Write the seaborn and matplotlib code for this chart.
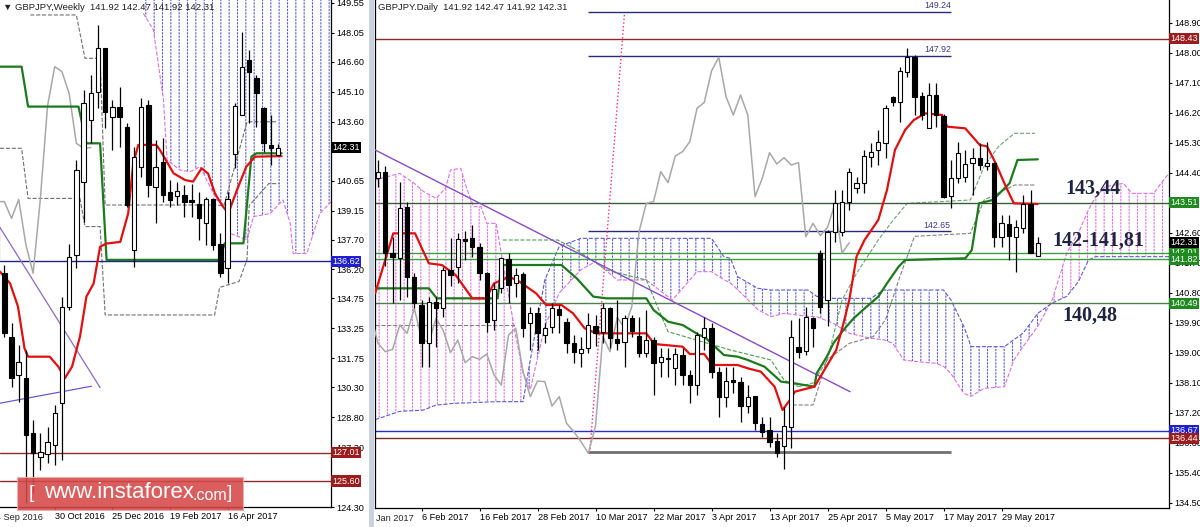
import numpy as np
import pandas as pd
import matplotlib
matplotlib.use("Agg")
import matplotlib.pyplot as plt
import matplotlib.transforms as mtransforms
from matplotlib.patches import Rectangle
import seaborn as sns

sns.set_style("white")
plt.rcParams['font.family'] = ['Liberation Sans', 'DejaVu Sans']
plt.rcParams['hatch.linewidth'] = 0.8

# ---------------- daily data (bar 0 = 27 Jan 2017) ----------------
d_open = [144.24, 144.44, 141.99, 141.84, 143.39, 141.29, 140.44, 139.29, 140.54, 140.34,
          141.49, 141.59, 142.41, 142.44, 142.19, 141.39, 139.99, 140.94, 141.81, 141.09,
          141.37, 139.89, 140.19, 139.54, 139.77, 140.31, 139.94, 139.29, 138.99, 139.14,
          139.81, 139.64, 140.34, 139.41, 139.34, 140.04, 139.51, 139.01, 139.39, 138.74,
          138.86, 138.54, 138.94, 138.34, 138.04, 139.49, 139.74, 138.44, 137.69, 138.16,
          138.14, 137.42, 137.71, 136.87, 136.69, 136.37, 136.21, 136.79, 139.17, 139.07,
          140.04, 141.99, 140.59, 142.64, 142.64, 143.52, 143.94, 144.11, 144.89, 145.09,
          145.29, 146.67, 146.52, 147.42, 147.87, 146.71, 145.74, 146.74, 146.11, 143.72,
          144.24, 144.29, 144.69, 144.84, 144.61, 144.71, 142.49, 142.86, 142.49, 142.74,
          143.46, 141.92]
d_high = [144.79, 144.60, 142.49, 144.14, 143.54, 141.40, 140.59, 140.69, 140.69, 141.59,
          142.44, 142.59, 142.65, 142.84, 142.29, 141.44, 141.09, 141.89, 141.99, 141.54,
          141.44, 140.39, 140.39, 139.90, 140.49, 140.44, 140.04, 139.54, 139.49, 140.19,
          140.14, 140.50, 140.39, 140.59, 140.14, 140.14, 140.09, 140.29, 139.49, 139.14,
          139.14, 139.14, 139.14, 138.49, 139.64, 140.09, 139.89, 138.59, 138.59, 138.59,
          138.29, 138.04, 137.71, 137.09, 137.09, 136.59, 137.39, 139.99, 140.04, 140.39,
          140.09, 142.10, 142.70, 143.89, 143.89, 144.54, 144.29, 145.09, 145.29, 145.69,
          146.44, 146.70, 147.57, 148.14, 147.94, 146.84, 147.09, 147.09, 146.17, 144.79,
          145.34, 145.09, 145.14, 145.29, 145.34, 144.74, 143.14, 143.14, 142.99, 143.74,
          143.89, 142.47]
d_low = [143.99, 141.60, 140.49, 140.59, 140.69, 140.35, 138.59, 138.59, 139.19, 140.09,
         141.00, 141.09, 141.80, 141.89, 141.19, 139.64, 139.69, 140.79, 140.49, 140.69,
         139.49, 139.09, 139.09, 139.30, 139.59, 139.60, 138.99, 138.69, 138.59, 138.99,
         139.20, 139.30, 139.14, 139.09, 138.59, 139.49, 138.89, 138.89, 137.74, 138.29,
         138.29, 138.04, 138.04, 137.49, 137.74, 139.09, 138.24, 137.09, 137.39, 137.79,
         136.94, 137.19, 136.69, 136.49, 136.19, 135.89, 135.51, 136.14, 138.84, 138.94,
         139.19, 140.20, 139.80, 142.34, 142.50, 143.29, 143.79, 143.79, 144.59, 144.64,
         144.84, 146.40, 145.94, 147.29, 146.14, 145.99, 145.74, 145.79, 143.64, 143.34,
         144.09, 144.14, 143.74, 144.49, 144.50, 142.19, 142.19, 141.79, 141.44, 142.59,
         141.99, 141.92]
d_close = [144.44, 141.99, 141.89, 143.34, 141.29, 140.49, 139.29, 140.54, 140.34, 141.49,
           141.34, 142.41, 142.35, 142.19, 141.39, 139.94, 140.91, 141.84, 141.04, 141.34,
           139.74, 140.19, 139.59, 139.74, 140.34, 140.14, 139.29, 139.04, 139.11, 139.84,
           139.59, 140.34, 139.44, 139.31, 140.04, 139.67, 139.01, 139.39, 138.71, 138.89,
           138.81, 138.97, 138.34, 138.04, 139.54, 139.74, 138.44, 137.69, 138.16, 138.14,
           137.41, 137.69, 136.89, 136.64, 136.34, 135.99, 136.81, 139.49, 139.04, 140.07,
           139.74, 140.39, 142.64, 143.49, 143.54, 144.44, 144.11, 144.91, 145.04, 145.34,
           146.34, 146.52, 147.46, 147.87, 146.69, 146.14, 146.74, 146.14, 143.69, 144.24,
           145.01, 144.67, 144.86, 144.64, 144.71, 142.49, 142.89, 142.52, 142.77, 143.46,
           142.00, 142.31]

d_tenkan_x = [-0.4, 2.1, 5.1, 7, 8.8, 10.7, 13, 14.9, 16, 18.1, 19.5, 21.8, 23.2, 25.3, 26.9,
              28.5, 30.1, 37, 38.1, 42, 43, 45, 46.1, 49.6, 51, 52.8, 54.7, 55.8, 56.8, 57.5,
              60.2, 63.2, 64.2, 65, 66, 67.1, 69, 70.2, 71.3, 72.7, 73.9, 75.5, 77.8, 78.5,
              81, 83, 84, 85.2, 86.6, 87.7, 91]
d_tenkan_y = [140.79, 142.59, 142.59, 141.69, 141.64, 141.34, 140.64, 140.64, 141.09, 141.29,
              141.14, 140.79, 140.44, 140.44, 140.19, 139.74, 139.59, 139.59, 139.27, 139.19,
              138.97, 138.97, 138.64, 138.64, 138.54, 138.44, 137.99, 137.29, 137.59, 137.84,
              137.99, 139.09, 139.89, 140.59, 141.89, 142.39, 142.99, 143.89, 145.09, 145.69,
              145.99, 146.19, 146.14, 145.79, 145.74, 145.24, 145.20, 144.69, 143.99, 143.49,
              143.47]
d_kijun_x = [-0.4, 7, 8.1, 16.5, 17, 25.3, 27.4, 29.7, 31.5, 37, 38, 40, 42, 44.3, 45, 47.7,
             49.6, 51, 53.3, 55.6, 57.4, 60.2, 60.5, 61.9, 62.8, 64.2, 65.6, 67.4, 69, 70.2,
             71.8, 72.7, 81, 81.9, 82.9, 84.8, 87.1, 88.2, 91]
d_kijun_y = [140.94, 140.94, 140.64, 140.64, 141.64, 141.64, 141.24, 140.69, 140.64, 140.64,
             140.29, 139.94, 139.84, 139.54, 139.49, 138.94, 138.89, 138.79, 138.59, 138.14,
             138.09, 137.99, 138.39, 138.89, 139.29, 139.69, 140.04, 140.39, 140.69, 141.09,
             141.59, 141.79, 141.84, 142.09, 143.49, 143.59, 144.09, 144.79, 144.81]

d_cloud_x = [-0.4, 3, 5, 6.3, 8, 9.3, 10, 11.4, 12.3, 13.2, 14.2, 15, 16.3, 17, 19, 20, 21,
             23, 25, 28, 30, 33, 37, 40.6, 42.2, 44, 46, 47.7, 48.6, 49.6, 52.4, 54.2, 56,
             59.3, 60.5, 62.8, 65, 68, 69.7, 71, 72.5, 74.4, 77, 78, 79, 80.8, 81.8, 83.6,
             86.4, 87.7, 89, 91, 93, 95, 96.6, 98, 99, 100.3, 102.8, 104, 107, 108, 109.1]
d_span_a = [144.19, 144.39, 144.09, 143.84, 143.64, 143.94, 144.49, 144.54, 143.89, 143.39,
            143.39, 142.89, 142.89, 141.99, 139.50, 138.40, 137.90, 139.80, 140.80, 141.50,
            141.74, 141.19, 141.19, 140.59, 140.99, 141.44, 141.44, 141.20, 141.10, 140.90,
            140.30, 140.09, 140.19, 140.10, 140.09, 139.89, 139.59, 139.44, 139.40, 139.29,
            138.79, 138.74, 138.69, 138.60, 138.39, 137.79, 137.70, 137.94, 137.99, 138.79,
            139.20, 139.80, 140.60, 142.00, 142.60, 143.30, 143.69, 143.99, 144.09, 143.79,
            143.79, 144.09, 144.39]
d_span_b = [137.00, 137.25, 137.27, 137.29, 137.44, 137.46, 137.48, 137.50, 137.50, 137.52,
            137.52, 137.53, 137.54, 137.54, 137.54, 137.54, 138.79, 141.19, 142.20, 142.44,
            142.44, 142.44, 142.44, 142.44, 142.44, 142.44, 142.44, 141.89, 141.84, 141.29,
            140.94, 140.89, 140.89, 140.89, 140.70, 140.64, 140.64, 140.64, 140.89, 140.89,
            140.89, 140.89, 140.89, 140.89, 140.60, 139.80, 139.19, 139.19, 139.19, 139.40,
            139.60, 140.19, 140.50, 140.70, 141.14, 141.79, 141.89, 141.89, 141.89, 141.89,
            141.89, 141.89, 141.89]

d_dash_gray1_x = [-0.4, 19]
d_dash_gray1_y = [139.84, 139.84]
d_dash_green_x = [17.2, 24.8, 27.4, 31.5, 37, 40, 48.6, 54.2, 56, 58]
d_dash_green_y = [142.39, 142.39, 142.09, 141.49, 141.19, 139.64, 139.09, 138.79, 138.19, 137.99]
d_dash_gray2_x = [58, 60, 62, 64, 66, 69, 71.1, 73, 81.7, 83.6, 85.6, 87.8, 90.6]
d_dash_gray2_y = [137.99, 138.10, 138.80, 140.59, 141.39, 142.39, 143.00, 143.49, 143.59, 144.60, 145.20, 145.59, 145.59]
d_dash_gray3_x = [57.2, 60, 61.9, 65, 68.3, 70, 72, 74, 81.7, 83.6, 87.8, 90.6]
d_dash_gray3_y = [137.44, 137.44, 138.79, 139.29, 139.49, 140.00, 141.30, 142.50, 142.59, 143.59, 144.04, 144.04]

d_levels = [148.43, 143.51, 142.01, 141.82, 140.49, 136.67, 136.44]
d_level_colors = ['#8c2a2a', '#3d5e3d', '#3fa03f', '#3fa03f', '#4f7f4f', '#2b2bd0', '#7a2a2a']
d_tag_colors = ['#9b1c1c', '#1f8a1f', '#1f8a1f', '#1f8a1f', '#1f8a1f', '#2020d0', '#9b1c1c']
d_segments = [149.24, 147.92, 142.65]
d_yticks = [148.90, 148.00, 147.10, 146.20, 145.30, 144.40, 142.60, 141.70, 140.80, 139.90,
            139.00, 138.10, 137.20, 136.30, 135.40, 134.50]
d_xticks = [6, 14, 22, 30, 38, 46, 54, 62, 70, 78, 86]
d_xlabels = ['6 Feb 2017', '16 Feb 2017', '28 Feb 2017', '10 Mar 2017', '22 Mar 2017', '3 Apr 2017',
             '13 Apr 2017', '25 Apr 2017', '5 May 2017', '17 May 2017', '29 May 2017']

# ---------------- weekly data (bar 0 = week of 4 Jun 2017) ----------------
w_open = [138.35, 136.00, 132.83, 130.92, 130.75, 128.00, 126.82, 126.95, 127.40, 129.49,
          134.34, 136.93, 140.60, 143.69, 145.11, 147.28, 143.86, 144.36, 143.36, 137.18,
          141.35, 144.44, 140.35, 141.60, 140.10, 139.88, 139.93, 139.66, 139.50, 138.54,
          139.71, 137.48, 136.26, 141.98, 143.94, 146.69, 145.78, 144.27, 142.44, 141.92]
w_high = [139.00, 136.40, 133.50, 132.42, 132.17, 128.66, 127.99, 128.32, 129.40, 134.83,
          137.50, 141.69, 145.19, 145.94, 148.45, 147.30, 144.69, 145.36, 143.52, 142.35,
          144.78, 144.69, 142.69, 142.77, 140.68, 140.60, 140.43, 140.50, 140.10, 139.85,
          139.76, 138.01, 140.10, 144.52, 148.11, 147.20, 145.94, 144.36, 143.94, 142.47]
w_low = [136.20, 132.80, 130.33, 129.58, 124.50, 124.98, 126.15, 126.48, 126.40, 126.65,
         134.17, 136.26, 138.60, 142.52, 144.27, 143.27, 142.19, 142.35, 139.35, 136.34,
         140.85, 139.85, 138.51, 139.60, 139.35, 139.43, 138.85, 138.85, 137.68, 137.43,
         137.18, 135.84, 135.50, 141.30, 143.94, 143.52, 143.36, 142.10, 141.43, 141.92]
w_close = [136.68, 133.00, 130.75, 131.58, 127.91, 127.00, 127.07, 127.57, 128.99, 134.33,
           136.84, 141.19, 144.52, 145.03, 147.28, 144.11, 144.36, 143.86, 139.43, 141.85,
           144.36, 140.43, 141.35, 139.93, 139.68, 140.15, 139.60, 139.60, 138.76, 139.71,
           137.43, 136.01, 139.73, 144.39, 146.36, 146.11, 145.02, 142.52, 142.27, 142.31]

w_tenkan_x = [-38.6, -37.2, -36.1, -35.2, -34.7, -31.7, -30.5, -29.6, -28.6, -27.5, -26.6,
              -25.6, -24.7, -23.8, -21.9, -20.8, -20.1, -19.4, -16.9, -16.4, -14.5, -12.9,
              -11.8, -10.6, -9.7, -8.75, -7.8, -6.9, -5.7, -4.4, -3.2, 0.5]
w_tenkan_y = [136.09, 135.50, 134.34, 132.25, 131.83, 131.83, 131.33, 130.75, 131.33, 132.83,
              134.84, 135.50, 137.34, 137.50, 137.58, 139.01, 141.50, 142.44, 142.44, 142.19,
              141.02, 140.68, 140.60, 141.27, 141.00, 140.01, 139.43, 139.01, 140.18, 141.35,
              141.85, 141.88]
w_kijun_x = [-38.6, -35.6, -34.7, -27.7, -26.6, -24.7, -23.8, -8.1, -7.4, -4.8, -3.7, -3.0, 0.5]
w_kijun_y = [146.36, 146.36, 144.36, 144.36, 142.52, 142.52, 136.68, 136.68, 137.51, 137.51,
             141.85, 142.02, 142.02]

w_cloud_x = [-18.7, -17.3, -15.9, -15.4, -13.6, -12.2, -10.8, -9.9, -8.5, -7.1, -6.6, -4.3,
             -3.4, -1.1, 0.7, 1.7, 2.1, 4.0, 5.8, 7.4]
w_span_a = [149.03, 148.20, 144.69, 141.68, 141.18, 141.10, 141.35, 140.68, 139.68, 139.35,
            138.00, 137.68, 138.85, 139.00, 139.68, 138.50, 137.00, 137.00, 139.00, 139.60]
w_span_b = [151.0, 151.0, 151.0, 151.0, 151.0, 151.0, 151.0, 151.0, 151.0, 151.0,
            151.0, 151.0, 151.0, 151.0, 151.0, 151.0, 151.0, 151.0, 151.0, 151.0]

w_dash1_x = [-38.6, -35.6, -34.7, -27.5, -26.8, -24.7, -24.0, -8.8, -8.1, -5.4, -4.3, -4.0, -1.3, 0.2]
w_dash1_y = [142.27, 142.27, 139.76, 139.76, 138.35, 138.35, 133.92, 133.92, 135.30, 135.60,
             136.70, 139.40, 140.50, 140.50]
w_dash2_x = [-34.4, -28.0, -26.8, -24.7, -24.0, -8.8, -7.5, -4.3, -0.2]
w_dash2_y = [148.95, 148.95, 146.78, 146.78, 139.43, 139.43, 139.40, 143.60, 143.60]

w_levels = [136.62, 127.01, 125.60]
w_level_colors = ['#22228c', '#8c2a2a', '#8c2a2a']
w_tag_colors = ['#2020d0', '#9b1c1c', '#9b1c1c']
w_yticks = [149.55, 148.05, 146.60, 145.10, 143.60, 140.65, 139.15, 137.70, 136.20, 134.75,
            133.25, 131.75, 130.30, 128.80, 127.30, 124.30]
w_xticks = [-31, -23, -15, -7]
w_xlabels = ['30 Oct 2016', '25 Dec 2016', '19 Feb 2017', '16 Apr 2017']


def candles(ax, o, h, l, c, x0, w):
    df = pd.DataFrame({'o': o, 'h': h, 'l': l, 'c': c})
    df['x'] = np.arange(len(df)) + x0
    up = df['c'] >= df['o']
    ax.vlines(df['x'], df['l'], df['h'], color='black', lw=0.9, zorder=5)
    ax.bar(df['x'], (df['c'] - df['o']).abs().clip(lower=0.04), bottom=df[['o', 'c']].min(axis=1),
           width=w, color=np.where(up, 'white', 'black'), edgecolor='black', lw=0.8, zorder=6)


def line(ax, xs, ys, color, lw=1.0, ls='-', z=3):
    sns.lineplot(x=xs, y=ys, ax=ax, color=color, linewidth=lw, linestyle=ls,
                 estimator=None, sort=False, legend=False, zorder=z)


def cloud(ax, xs, a, b):
    a = np.array(a)
    b = np.array(b)
    ax.fill_between(xs, a, b, where=a >= b, interpolate=True, facecolor='none',
                    edgecolor='#e070e0', hatch='||', linewidth=0, zorder=1)
    ax.fill_between(xs, a, b, where=a < b, interpolate=True, facecolor='none',
                    edgecolor='#5a5ad8', hatch='||', linewidth=0, zorder=1)
    # white horizontal hatch breaks the vertical lines into dots
    ax.fill_between(xs, a, b, facecolor='none', edgecolor='white', hatch='-----',
                    linewidth=0, zorder=1.5)
    line(ax, xs, a, '#e070e0', 0.8, '--', 2)
    line(ax, xs, b, '#5a5ad8', 0.8, '--', 2)


def tag(ax, y, text, fc):
    tr = mtransforms.blended_transform_factory(ax.transAxes, ax.transData)
    ax.annotate(text, xy=(1, y), xycoords=tr, xytext=(1.0, 0), textcoords='offset points',
                ha='left', va='center', fontsize=6.5, color='white', annotation_clip=False,
                bbox=dict(boxstyle='square,pad=0.12', fc=fc, ec='none'), zorder=20)


fig = plt.figure(figsize=(12, 5.27), dpi=100)
fig.patch.set_facecolor('white')
axw = fig.add_axes([0, 20 / 527, 331 / 1200, 507 / 527])
axd = fig.add_axes([375 / 1200, 19 / 527, 794 / 1200, 508 / 527])

for ax in (axw, axd):
    ax.set_facecolor('white')
    ax.yaxis.tick_right()
    ax.tick_params(axis='both', labelsize=6.6, length=2.5, width=0.8, pad=1.2, direction='out',
                   colors='black', right=True, bottom=True, left=False)
    ax.spines['top'].set_visible(False)
    for s in ('right', 'bottom', 'left'):
        ax.spines[s].set_color('black')
        ax.spines[s].set_linewidth(0.9)
axw.spines['left'].set_visible(False)

# ---------------- weekly panel ----------------
cloud(axw, w_cloud_x, w_span_a, w_span_b)
line(axw, w_dash1_x, w_dash1_y, '#707070', 0.8, '--', 2)
line(axw, w_dash2_x, w_dash2_y, '#707070', 0.8, '--', 2)
for lv, col in zip(w_levels, w_level_colors):
    axw.axhline(lv, color=col, lw=1, zorder=2)
line(axw, [-38.6, -24.7], [138.3, 130.28], '#8a6ac8', 0.9)
line(axw, [-38.6, -25.9], [129.5, 130.35], '#6a5ad0', 0.9)
line(axw, list(np.arange(-39, 1) - 26), w_close, '#a8a8a8', 1.1, '-', 3)
line(axw, w_kijun_x, w_kijun_y, '#1c7a1c', 1.6, '-', 4)
line(axw, w_tenkan_x, w_tenkan_y, '#e01010', 1.6, '-', 4)
candles(axw, w_open, w_high, w_low, w_close, -39, 0.62)
axw.set_xlim(-38.6, 7.36)
axw.set_ylim(124.30, 149.70)
axw.set_yticks(w_yticks)
axw.set_yticklabels(['%.2f' % v for v in w_yticks])
axw.set_xticks(w_xticks)
axw.set_xticklabels(w_xlabels, ha='left')
axw.text(-39.2, -0.012, '4 Sep 2016', transform=mtransforms.blended_transform_factory(axw.transData, axw.transAxes),
         ha='left', va='top', fontsize=6.6, clip_on=False)
for lv, col in zip(w_levels, w_tag_colors):
    tag(axw, lv, '%.2f' % lv, col)
tag(axw, 142.31, '142.31', 'black')
axw.text(0.01, 0.995, '\u25bc GBPJPY,Weekly  141.92 142.47 141.92 142.31', transform=axw.transAxes,
         ha='left', va='top', fontsize=6.8, color='#202020', zorder=20)

# ---------------- daily panel ----------------
cloud(axd, d_cloud_x, d_span_a, d_span_b)
line(axd, d_dash_gray1_x, d_dash_gray1_y, '#808080', 0.8, '--', 2)
line(axd, d_dash_green_x, d_dash_green_y, '#4aa04a', 0.8, '--', 2)
line(axd, d_dash_gray2_x, d_dash_gray2_y, '#6f9f6f', 0.8, '--', 2)
line(axd, d_dash_gray3_x, d_dash_gray3_y, '#808080', 0.8, '--', 2)
for lv, col in zip(d_levels, d_level_colors):
    axd.axhline(lv, color=col, lw=1, zorder=2)
for lv in d_segments:
    axd.hlines(lv, 29, 79, color='#2a2a7a', lw=1, zorder=2)
    axd.text(79, lv + 0.04, '%.2f' % lv, ha='right', va='bottom', fontsize=6.3, color='#3a3a8a')
axd.hlines(136.04, 29, 79, color='#707070', lw=2, zorder=2)
line(axd, [-0.4, 65.1], [145.09, 137.84], '#8a4ac8', 1.0, '-', 3)
line(axd, [29.2, 34.0], [136.0, 149.2], '#ff3070', 1.0, ':', 3)
line(axd, list(np.arange(92) - 26), d_close, '#a8a8a8', 1.1, '-', 3)
line(axd, d_kijun_x, d_kijun_y, '#1c7a1c', 1.6, '-', 4)
line(axd, d_tenkan_x, d_tenkan_y, '#e01010', 1.6, '-', 4)
candles(axd, d_open, d_high, d_low, d_close, 0, 0.6)
axd.set_xlim(-0.42, 109.1)
axd.set_ylim(134.35, 149.59)
axd.set_yticks(d_yticks)
axd.set_yticklabels(['%.2f' % v for v in d_yticks])
axd.set_xticks(d_xticks)
axd.set_xticklabels(d_xlabels, ha='left')
axd.text(-0.3, -0.012, 'Jan 2017', transform=mtransforms.blended_transform_factory(axd.transData, axd.transAxes),
         ha='left', va='top', fontsize=6.6, clip_on=False)
for lv, col in zip(d_levels, d_tag_colors):
    tag(axd, lv, '%.2f' % lv, col)
tag(axd, 142.31, '142.31', 'black')
axd.text(0.004, 0.995, 'GBPJPY.Daily  141.92 142.47 141.92 142.31', transform=axd.transAxes,
         ha='left', va='top', fontsize=6.8, color='#202020', zorder=20)

note_font = dict(family=['Liberation Serif', 'DejaVu Serif'], fontsize=14.5, fontweight='bold',
                 color='#1f2540', ha='center', va='center', zorder=25)
axd.text(98.6, 143.92, '143,44', **note_font)
axd.text(99.4, 142.36, '142-141,81', **note_font)
axd.text(98.2, 140.11, '140,48', **note_font)

# separator strip and watermark
fig.add_artist(Rectangle((369 / 1200, 0), 5 / 1200, 1, transform=fig.transFigure,
                         fc='#c9d3e0', ec='none'))
fig.add_artist(Rectangle((17 / 1200, 17 / 527), 226 / 1200, 33 / 527, transform=fig.transFigure,
                         fc='#d64848', ec='#f0b0b0', lw=0.8, alpha=0.88, zorder=30))
fig.text(29 / 1200, 34 / 527, '[', color='white', fontsize=14, va='center', ha='left', zorder=31)
fig.text(44 / 1200, 34 / 527, 'www.instaforex', color='white', fontsize=16, va='center', ha='left', zorder=31)
fig.text(193 / 1200, 32 / 527, '.com', color='white', fontsize=11.5, va='center', ha='left', zorder=31)
fig.text(227 / 1200, 34 / 527, ']', color='white', fontsize=14, va='center', ha='left', zorder=31)

fig.savefig('out.png', dpi=100, facecolor='white')
